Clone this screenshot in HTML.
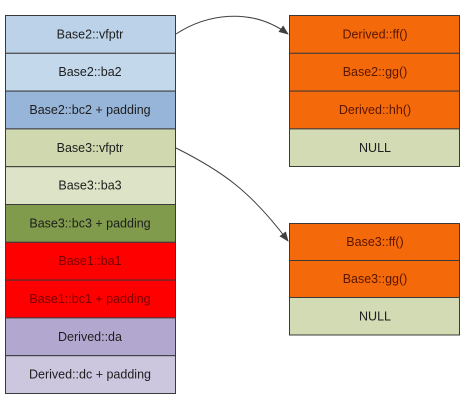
<!DOCTYPE html>
<html><head><meta charset="utf-8"><style>
html,body{margin:0;padding:0;background:#fff;}
svg{display:block;}
text{font-family:"Liberation Sans",sans-serif;font-size:12.5px;text-anchor:middle;dominant-baseline:central;}
</style></head><body>
<svg width="467" height="402" viewBox="0 0 467 402" xmlns="http://www.w3.org/2000/svg">
<defs>
<marker id="a" markerWidth="10" markerHeight="8" refX="9" refY="4" orient="auto" markerUnits="userSpaceOnUse">
<path d="M0,0 L10,4 L0,8 z" fill="#404040"/></marker>
</defs>
<g stroke="#3a3a3a" stroke-width="1">
<rect x="5.5" y="15.5" width="170" height="37.8" fill="#bcd2e9"/>
<rect x="5.5" y="53.3" width="170" height="37.8" fill="#c4d8ec"/>
<rect x="5.5" y="91.1" width="170" height="37.8" fill="#97b5d8"/>
<rect x="5.5" y="128.9" width="170" height="37.8" fill="#cfd8ae"/>
<rect x="5.5" y="166.7" width="170" height="37.8" fill="#dce3c6"/>
<rect x="5.5" y="204.5" width="170" height="37.8" fill="#809b4c"/>
<rect x="5.5" y="242.3" width="170" height="37.8" fill="#fe0000"/>
<rect x="5.5" y="280.1" width="170" height="37.8" fill="#fe0000"/>
<rect x="5.5" y="317.9" width="170" height="37.8" fill="#b2a8cf"/>
<rect x="5.5" y="355.7" width="170" height="37.8" fill="#ccc6df"/>

<rect x="289.5" y="15.5" width="170" height="37.8" fill="#f46a0a"/>
<rect x="289.5" y="53.3" width="170" height="37.8" fill="#f46a0a"/>
<rect x="289.5" y="91.1" width="170" height="37.8" fill="#f46a0a"/>
<rect x="289.5" y="128.9" width="170" height="37.6" fill="#d2dbb3"/>

<rect x="289.5" y="223.5" width="170" height="37" fill="#f46a0a"/>
<rect x="289.5" y="260.5" width="170" height="37" fill="#f46a0a"/>
<rect x="289.5" y="297.5" width="170" height="37.5" fill="#d2dbb3"/>
</g>
<g fill="#1e1e1e">
<text x="90" y="34.4">Base2::vfptr</text>
<text x="90" y="72.2">Base2::ba2</text>
<text x="90" y="110">Base2::bc2  + padding</text>
<text x="90" y="147.8">Base3::vfptr</text>
<text x="90" y="185.6">Base3::ba3</text>
<text x="90" y="223.4">Base3::bc3  + padding</text>
<text x="90" y="261.2" fill="#7a0000">Base1::ba1</text>
<text x="90" y="299" fill="#7a0000">Base1::bc1 + padding</text>
<text x="90" y="336.8">Derived::da</text>
<text x="90" y="374.6">Derived::dc + padding</text>
</g>
<g fill="#5a1500">
<text x="375" y="34.4">Derived::ff()</text>
<text x="375" y="72.2">Base2::gg()</text>
<text x="375" y="110">Derived::hh()</text>
<text x="375" y="242">Base3::ff()</text>
<text x="375" y="279">Base3::gg()</text>
</g>
<g fill="#1e1e1e">
<text x="375" y="147.8">NULL</text>
<text x="375" y="316.5">NULL</text>
</g>
<path d="M176,34 C205,15 250,6 288,34" fill="none" stroke="#404040" stroke-width="1" marker-end="url(#a)"/>
<path d="M176,148 C220,170 250,190 288,241" fill="none" stroke="#404040" stroke-width="1" marker-end="url(#a)"/>
</svg>
</body></html>
